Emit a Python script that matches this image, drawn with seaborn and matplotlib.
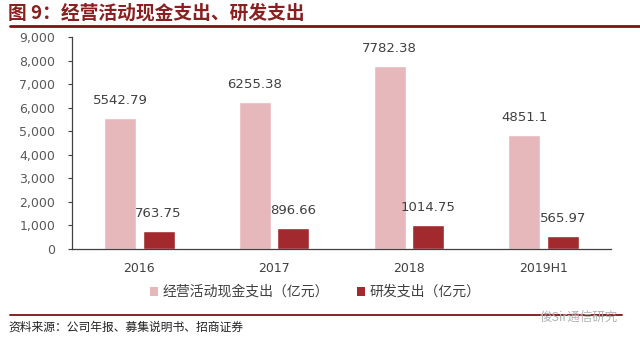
import matplotlib
matplotlib.use("Agg")
import matplotlib.pyplot as plt
import seaborn as sns
import pandas as pd
from matplotlib.lines import Line2D
from matplotlib.patches import Patch

categories = ["2016", "2017", "2018", "2019H1"]
cash_out = [5542.79, 6255.38, 7782.38, 4851.1]
rd_out = [763.75, 896.66, 1014.75, 565.97]
series_names = ["经营活动现金支出（亿元）", "研发支出（亿元）"]
yticks = [0, 1000, 2000, 3000, 4000, 5000, 6000, 7000, 8000, 9000]

sns.set_style("white")
plt.rcParams['font.family'] = ['Noto Sans CJK SC', 'DejaVu Sans']

df = pd.DataFrame({
    "cat": categories * 2,
    "val": cash_out + rd_out,
    "series": [series_names[0]] * 4 + [series_names[1]] * 4,
})

colors = ["#E6B8BC", "#A2292D"]

fig = plt.figure(figsize=(6.4, 3.43), dpi=100)
ax = fig.add_axes([72/640, 1-249/343, (611-72)/640, (249-37)/343])

sns.barplot(data=df, x="cat", y="val", hue="series", palette=colors,
            width=0.57, gap=0.17, ax=ax, legend=False, saturation=1)

ax.set_xlim(-0.5, 3.5)
ax.set_ylim(0, 9000)
ax.set_yticks(yticks)
ax.set_yticklabels([f"{v:,}" for v in yticks], fontsize=9, color="#595959", family="DejaVu Sans")
ax.set_xlabel("")
ax.set_ylabel("")
ax.set_xticks(range(4))
ax.set_xticklabels(categories, fontsize=9, color="#404040", family="DejaVu Sans")
ax.tick_params(axis="x", which="major", length=0, pad=9)
ax.set_xticks([-0.5, 0.5, 1.5, 2.5, 3.5], minor=True)
ax.tick_params(axis="x", which="minor", length=5, width=0.8, color="#404040", direction="out")
ax.tick_params(axis="y", length=3, width=0.8, color="#404040", direction="out", left=True, pad=9)
for s in ["top", "right"]:
    ax.spines[s].set_visible(False)
for s in ["left", "bottom"]:
    ax.spines[s].set_color("#404040")
    ax.spines[s].set_linewidth(0.9)

for cont in ax.containers:
    ax.bar_label(cont, labels=[str(v) for v in cont.datavalues], padding=8,
                 fontsize=9.5, color="#404040", family="DejaVu Sans")

# Title
fig.text(8/640, 1-13/343, "图 9：经营活动现金支出、研发支出", fontsize=13.5, fontweight="bold",
         color="#8B1E1E", va="center", ha="left")
fig.add_artist(Line2D([10/640, 1.0], [1-26/343, 1-26/343], color="#7A1414", lw=2.0,
                      transform=fig.transFigure))

# Legend
handles = [Patch(facecolor=c, edgecolor="none") for c in colors]
fig.legend(handles, series_names, loc="center", bbox_to_anchor=(315/640, 1-292/343),
           ncol=2, frameon=False, fontsize=10, handlelength=0.6, handleheight=0.6,
           handletextpad=0.3, columnspacing=2.0, labelcolor="#404040")

# Footer
fig.add_artist(Line2D([10/640, 622/640], [1-315/343, 1-315/343], color="#7A1414", lw=1.3,
                      transform=fig.transFigure))
fig.text(8/640, 1-327/343, "资料来源：公司年报、募集说明书、招商证券", fontsize=8.5,
         color="#222222", va="center", ha="left")
fig.text(618/640, 1-318/343, "俊Sir通信研究", fontsize=9, color="#B0B0B0",
         va="center", ha="right")

fig.savefig("out.png", dpi=100)
